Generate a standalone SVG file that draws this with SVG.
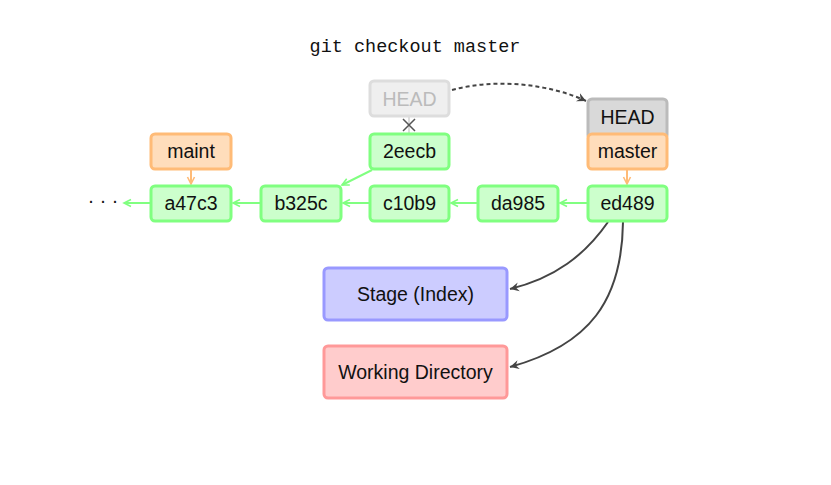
<svg xmlns="http://www.w3.org/2000/svg" width="831" height="485" viewBox="0 0 831 485">
<defs>
<style>
text{font-family:"Liberation Sans","DejaVu Sans",sans-serif;font-size:19.5px;text-anchor:middle;fill:#111}
.commit rect{fill:#ccffcc;stroke:#80ff80;stroke-width:3}
.branch rect{fill:#ffddbb;stroke:#ffbb77;stroke-width:3}
.head rect{fill:#d9d9d9;stroke:#bbbbbb;stroke-width:3}
.oldhead rect{fill:#efefef;stroke:#dddddd;stroke-width:3}
.oldhead text{fill:#bbbbbb}
.stage rect{fill:#ccccff;stroke:#9999ff;stroke-width:3}
.wd rect{fill:#ffcccc;stroke:#ff9999;stroke-width:3}
.g{stroke:#80ff80;stroke-width:2;fill:none;marker-end:url(#ag)}
.o{stroke:#ffbb77;stroke-width:2;fill:none;marker-end:url(#ao)}
.d{stroke:#444;stroke-width:2;fill:none;marker-end:url(#ad)}
.title{font-family:"Liberation Mono","DejaVu Sans Mono",monospace;font-size:18.5px}
</style>
<marker id="ag" markerWidth="10" markerHeight="10" refX="8" refY="5" orient="auto" markerUnits="userSpaceOnUse"><path d="M1,1.5 L8,5 L1,8.5" fill="none" stroke="#80ff80" stroke-width="1.6"/></marker>
<marker id="ao" markerWidth="10" markerHeight="10" refX="8" refY="5" orient="auto" markerUnits="userSpaceOnUse"><path d="M1,1.5 L8,5 L1,8.5" fill="none" stroke="#ffbb77" stroke-width="1.6"/></marker>
<marker id="ad" markerWidth="12" markerHeight="12" refX="9" refY="6" orient="auto" markerUnits="userSpaceOnUse"><path d="M0,1.5 L9,6 L0,10.5 L3,6 Z" fill="#444"/></marker>
</defs>
<rect width="831" height="485" fill="#fff"/>
<text class="title" x="415" y="52">git checkout master</text>

<g id="connectors">
<path class="g" d="M587,203 L560,203"/>
<path class="g" d="M477,203 L451,203"/>
<path class="g" d="M369,203 L343,203"/>
<path class="g" d="M260,203 L233,203"/>
<path class="g" d="M150,203 L124,203"/>
<path class="g" d="M372,170 L342,185"/>
<path class="o" d="M191,170 L191,184"/>
<path class="o" d="M627,170 L627,184"/>
<line x1="409" y1="117" x2="409" y2="133" stroke="#dddddd" stroke-width="2"/>
<path d="M403,119 L415,131 M415,119 L403,131" stroke="#555" stroke-width="1.5"/>
<path class="d" d="M452,90 C495,78 550,84 586,101" stroke-dasharray="4,3"/>
<path class="d" d="M608,222 C585,255 555,278 510,289"/>
<path class="d" d="M623,222 C622,300 590,345 510,367"/>
</g>

<text x="103" y="207">· · ·</text>

<g id="a47c3" class="commit"><rect x="151" y="186" width="80" height="35" rx="4"/><text x="191" y="210">a47c3</text></g>
<g id="b325c" class="commit"><rect x="261" y="186" width="80" height="35" rx="4"/><text x="301" y="210">b325c</text></g>
<g id="c10b9" class="commit"><rect x="370" y="186" width="79" height="35" rx="4"/><text x="409.5" y="210">c10b9</text></g>
<g id="da985" class="commit"><rect x="478" y="186" width="80" height="35" rx="4"/><text x="518" y="210">da985</text></g>
<g id="ed489" class="commit"><rect x="588" y="186" width="79" height="35" rx="4"/><text x="627.5" y="210">ed489</text></g>
<g id="2eecb" class="commit"><rect x="370" y="134" width="79" height="35" rx="4"/><text x="409.5" y="158">2eecb</text></g>
<g id="maint" class="branch"><rect x="151" y="134" width="80" height="35" rx="4"/><text x="191" y="158">maint</text></g>
<g id="head" class="head"><rect x="588" y="99" width="79" height="40" rx="4"/><text x="627.5" y="124">HEAD</text></g>
<g id="master" class="branch"><rect x="588" y="134" width="79" height="35" rx="4"/><text x="627.5" y="158">master</text></g>
<g id="oldhead" class="oldhead"><rect x="370" y="81" width="79" height="35" rx="4"/><text x="409.5" y="106">HEAD</text></g>
<g id="stage" class="stage"><rect x="324" y="268" width="183" height="52" rx="4"/><text x="415.5" y="301">Stage (Index)</text></g>
<g id="wd" class="wd"><rect x="324" y="346" width="183" height="52" rx="4"/><text x="415.5" y="379">Working Directory</text></g>
</svg>
